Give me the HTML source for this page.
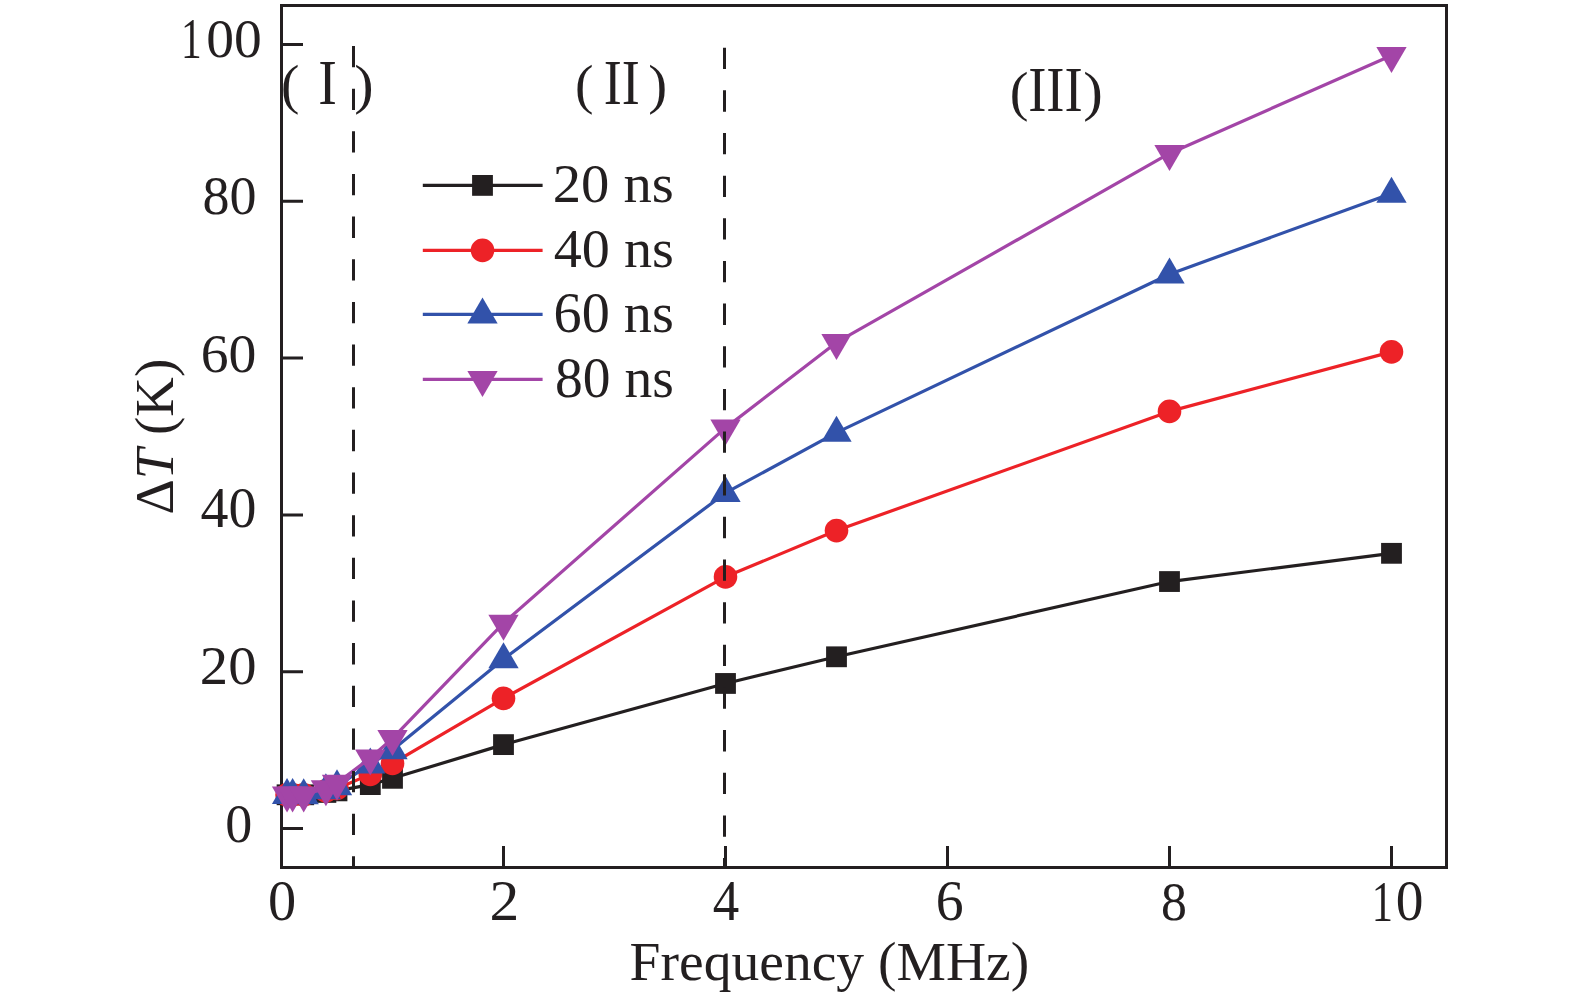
<!DOCTYPE html><html><head><meta charset="utf-8"><style>html,body{margin:0;padding:0;background:#fff;overflow:hidden}svg{display:block}</style></head><body>
<svg width="1575" height="1004" viewBox="0 0 1575 1004" font-family='"Liberation Serif", serif' fill="#231f20">
<rect width="1575" height="1004" fill="#fff"/>
<rect x="281.5" y="5.5" width="1165" height="862" fill="none" stroke="#231f20" stroke-width="3"/>
<path d="M503.50 867.5V846 M725.50 867.5V846 M947.50 867.5V846 M1169.50 867.5V846 M1391.50 867.5V846 M281.5 828.50H303 M281.5 671.70H303 M281.5 514.90H303 M281.5 358.10H303 M281.5 201.30H303 M281.5 44.50H303" stroke="#231f20" stroke-width="3" fill="none"/>
<polyline points="287.05,794.79 292.60,794.79 303.70,794.79 325.90,792.44 337.00,790.87 370.30,784.60 392.50,778.32 503.50,744.61 725.50,683.46 836.50,656.80 1169.50,581.54 1391.50,553.32" fill="none" stroke="#231f20" stroke-width="3.2" stroke-linejoin="round"/>
<rect x="276.65" y="784.39" width="20.8" height="20.8" fill="#231f20"/>
<rect x="282.20" y="784.39" width="20.8" height="20.8" fill="#231f20"/>
<rect x="293.30" y="784.39" width="20.8" height="20.8" fill="#231f20"/>
<rect x="315.50" y="782.04" width="20.8" height="20.8" fill="#231f20"/>
<rect x="326.60" y="780.47" width="20.8" height="20.8" fill="#231f20"/>
<rect x="359.90" y="774.20" width="20.8" height="20.8" fill="#231f20"/>
<rect x="382.10" y="767.92" width="20.8" height="20.8" fill="#231f20"/>
<rect x="493.10" y="734.21" width="20.8" height="20.8" fill="#231f20"/>
<rect x="715.10" y="673.06" width="20.8" height="20.8" fill="#231f20"/>
<rect x="826.10" y="646.40" width="20.8" height="20.8" fill="#231f20"/>
<rect x="1159.10" y="571.14" width="20.8" height="20.8" fill="#231f20"/>
<rect x="1381.10" y="542.92" width="20.8" height="20.8" fill="#231f20"/>
<polyline points="287.05,794.79 292.60,794.79 303.70,794.79 325.90,790.87 337.00,788.52 370.30,774.40 392.50,763.43 503.50,698.36 725.50,576.84 836.50,530.58 1169.50,411.41 1391.50,351.83" fill="none" stroke="#ed2227" stroke-width="3.2" stroke-linejoin="round"/>
<circle cx="287.05" cy="794.79" r="11.8" fill="#ed2227"/>
<circle cx="292.60" cy="794.79" r="11.8" fill="#ed2227"/>
<circle cx="303.70" cy="794.79" r="11.8" fill="#ed2227"/>
<circle cx="325.90" cy="790.87" r="11.8" fill="#ed2227"/>
<circle cx="337.00" cy="788.52" r="11.8" fill="#ed2227"/>
<circle cx="370.30" cy="774.40" r="11.8" fill="#ed2227"/>
<circle cx="392.50" cy="763.43" r="11.8" fill="#ed2227"/>
<circle cx="503.50" cy="698.36" r="11.8" fill="#ed2227"/>
<circle cx="725.50" cy="576.84" r="11.8" fill="#ed2227"/>
<circle cx="836.50" cy="530.58" r="11.8" fill="#ed2227"/>
<circle cx="1169.50" cy="411.41" r="11.8" fill="#ed2227"/>
<circle cx="1391.50" cy="351.83" r="11.8" fill="#ed2227"/>
<polyline points="287.05,794.79 292.60,794.79 303.70,795.18 325.90,790.08 337.00,786.16 370.30,764.21 392.50,750.10 503.50,659.16 725.50,492.95 836.50,432.58 1169.50,274.21 1391.50,193.46" fill="none" stroke="#3252aa" stroke-width="3.2" stroke-linejoin="round"/>
<polygon points="287.05,777.95 302.20,803.95 271.90,803.95" fill="#3252aa"/>
<polygon points="292.60,777.95 307.75,803.95 277.45,803.95" fill="#3252aa"/>
<polygon points="303.70,778.35 318.85,804.35 288.55,804.35" fill="#3252aa"/>
<polygon points="325.90,773.25 341.05,799.25 310.75,799.25" fill="#3252aa"/>
<polygon points="337.00,769.33 352.15,795.33 321.85,795.33" fill="#3252aa"/>
<polygon points="370.30,747.38 385.45,773.38 355.15,773.38" fill="#3252aa"/>
<polygon points="392.50,733.27 407.65,759.27 377.35,759.27" fill="#3252aa"/>
<polygon points="503.50,642.32 518.65,668.32 488.35,668.32" fill="#3252aa"/>
<polygon points="725.50,476.11 740.65,502.11 710.35,502.11" fill="#3252aa"/>
<polygon points="836.50,415.75 851.65,441.75 821.35,441.75" fill="#3252aa"/>
<polygon points="1169.50,257.38 1184.65,283.38 1154.35,283.38" fill="#3252aa"/>
<polygon points="1391.50,176.63 1406.65,202.63 1376.35,202.63" fill="#3252aa"/>
<polyline points="287.05,794.79 292.60,794.79 303.70,794.79 325.90,788.52 337.00,783.03 370.30,757.94 392.50,738.34 503.50,623.09 725.50,427.88 836.50,342.42 1169.50,153.48 1391.50,55.48" fill="none" stroke="#a345a7" stroke-width="3.2" stroke-linejoin="round"/>
<polygon points="287.05,812.42 302.20,786.42 271.90,786.42" fill="#a345a7"/>
<polygon points="292.60,812.42 307.75,786.42 277.45,786.42" fill="#a345a7"/>
<polygon points="303.70,812.42 318.85,786.42 288.55,786.42" fill="#a345a7"/>
<polygon points="325.90,806.15 341.05,780.15 310.75,780.15" fill="#a345a7"/>
<polygon points="337.00,800.66 352.15,774.66 321.85,774.66" fill="#a345a7"/>
<polygon points="370.30,775.57 385.45,749.57 355.15,749.57" fill="#a345a7"/>
<polygon points="392.50,755.97 407.65,729.97 377.35,729.97" fill="#a345a7"/>
<polygon points="503.50,640.73 518.65,614.73 488.35,614.73" fill="#a345a7"/>
<polygon points="725.50,445.51 740.65,419.51 710.35,419.51" fill="#a345a7"/>
<polygon points="836.50,360.05 851.65,334.05 821.35,334.05" fill="#a345a7"/>
<polygon points="1169.50,171.11 1184.65,145.11 1154.35,145.11" fill="#a345a7"/>
<polygon points="1391.50,73.11 1406.65,47.11 1376.35,47.11" fill="#a345a7"/>
<line x1="353.5" y1="46" x2="353.5" y2="867" stroke="#231f20" stroke-width="3" stroke-dasharray="21.3 21.35"/>
<line x1="724.5" y1="47.7" x2="724.5" y2="867" stroke="#231f20" stroke-width="3" stroke-dasharray="21.3 21.35"/>
<text transform="translate(180.89,58.20) scale(0.4139,0.5712)" font-size="100">1</text>
<text transform="translate(206.13,57.28) scale(0.5553,0.5588)" font-size="100">00</text>
<text transform="translate(202.38,214.49) scale(0.5404,0.5566)" font-size="100">80</text>
<text transform="translate(200.77,371.59) scale(0.5570,0.5574)" font-size="100">60</text>
<text transform="translate(200.58,527.48) scale(0.5589,0.5603)" font-size="100">40</text>
<text transform="translate(199.83,684.29) scale(0.5667,0.5544)" font-size="100">20</text>
<text transform="translate(225.18,841.58) scale(0.5409,0.5588)" font-size="100">0</text>
<text transform="translate(267.91,919.88) scale(0.5636,0.5618)" font-size="100">0</text>
<text transform="translate(489.52,919.94) scale(0.5951,0.5627)" font-size="100">2</text>
<text transform="translate(712.84,919.53) scale(0.5298,0.5712)" font-size="100">4</text>
<text transform="translate(935.67,919.86) scale(0.5581,0.5676)" font-size="100">6</text>
<text transform="translate(1160.95,919.88) scale(0.5182,0.5588)" font-size="100">8</text>
<text transform="translate(1371.80,920.50) scale(0.4250,0.5682)" font-size="100">1</text>
<text transform="translate(1395.84,920.06) scale(0.5545,0.5676)" font-size="100">0</text>
<text transform="translate(629.59,980.20) scale(0.5558,0.5522)" font-size="100">Frequency (MHz)</text>
<text transform="translate(173.00,514.55) rotate(-90) scale(0.5491,0.5522)" font-size="100">&#916;<tspan font-style="italic">T</tspan> (K)</text>
<text transform="translate(280.89,103.03) scale(0.5519,0.5556)" font-size="100">(</text>
<text transform="translate(318.32,104.16) scale(0.5593,0.6364)" font-size="100">I</text>
<text transform="translate(354.36,103.03) scale(0.5808,0.5556)" font-size="100">)</text>
<text transform="translate(574.88,103.03) scale(0.5556,0.5556)" font-size="100">(</text>
<text transform="translate(603.77,104.16) scale(0.5417,0.6364)" font-size="100">II</text>
<text transform="translate(648.29,103.03) scale(0.5692,0.5556)" font-size="100">)</text>
<text transform="translate(1009.75,109.98) scale(0.5630,0.5533)" font-size="100">(</text>
<text transform="translate(1028.16,110.56) scale(0.5457,0.6424)" font-size="100">III</text>
<text transform="translate(1083.13,109.98) scale(0.5885,0.5533)" font-size="100">)</text>
<line x1="422.8" y1="185.4" x2="542.6" y2="185.4" stroke="#231f20" stroke-width="3.2"/>
<rect x="472.10" y="175.00" width="20.8" height="20.8" fill="#231f20"/>
<text transform="translate(552.63,202.19) scale(0.5667,0.5544)" font-size="100">20 ns</text>
<line x1="422.8" y1="250.4" x2="542.6" y2="250.4" stroke="#ed2227" stroke-width="3.2"/>
<circle cx="482.50" cy="250.40" r="11.8" fill="#ed2227"/>
<text transform="translate(553.78,267.10) scale(0.5612,0.5485)" font-size="100">40 ns</text>
<line x1="422.8" y1="314.3" x2="542.6" y2="314.3" stroke="#3252aa" stroke-width="3.2"/>
<polygon points="482.50,297.47 497.65,323.47 467.35,323.47" fill="#3252aa"/>
<text transform="translate(553.55,331.86) scale(0.5623,0.5706)" font-size="100">60 ns</text>
<line x1="422.8" y1="379.4" x2="542.6" y2="379.4" stroke="#a345a7" stroke-width="3.2"/>
<polygon points="482.50,397.03 497.65,371.03 467.35,371.03" fill="#a345a7"/>
<text transform="translate(555.03,397.06) scale(0.5553,0.5691)" font-size="100">80 ns</text>
</svg></body></html>
